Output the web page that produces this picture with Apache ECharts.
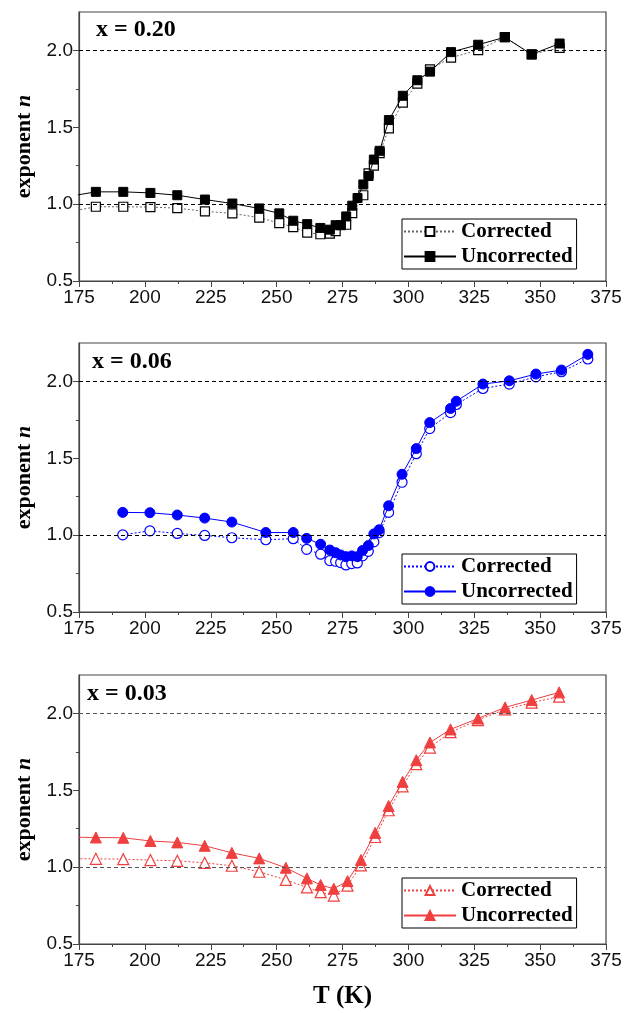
<!DOCTYPE html>
<html><head><meta charset="utf-8">
<script src="https://cdn.jsdelivr.net/npm/echarts@6/dist/echarts.min.js"></script>
<style>html,body{margin:0;padding:0;background:#fff}#c{width:626px;height:1013px}</style>
</head><body><div id="c"></div>
<script>
// ---------- data ----------
const panelLabels = ['x = 0.20', 'x = 0.06', 'x = 0.03'];
const seriesNames = ['Corrected', 'Uncorrected'];
const yTickValues = [0.5, 1.0, 1.5, 2.0];
const refLines = [1.0, 2.0];

// x = 0.20
const T_020 = [171, 181.4, 191.8, 202.1, 212.3, 222.8, 233.2, 243.4, 251.0, 256.3, 261.6, 266.6, 270.2, 272.4, 274.4, 276.4, 278.7, 280.7, 282.9, 284.9, 286.9, 289.1, 292.6, 297.9, 303.4, 308.2, 316.2, 326.5, 336.6, 346.8, 357.4];
const corr_020 = [0.95, 0.983, 0.983, 0.981, 0.974, 0.953, 0.940, 0.912, 0.877, 0.851, 0.815, 0.804, 0.808, 0.825, null, 0.866, 0.942, null, 1.058, 1.200, 1.250, 1.332, 1.493, 1.661, 1.784, 1.877, 1.953, 2.002, 2.086, 1.974, 2.017];
const unc_020 = [1.05, 1.080, 1.080, 1.073, 1.058, 1.030, 1.004, 0.972, 0.940, 0.892, 0.870, 0.845, 0.834, 0.863, 0.863, 0.920, 0.990, 1.040, 1.128, 1.183, 1.290, 1.347, 1.547, 1.705, 1.806, 1.862, 1.989, 2.037, 2.086, 1.974, 2.045];

// x = 0.06
const T_006 = [191.6, 201.9, 212.3, 222.7, 233.0, 245.9, 256.3, 261.4, 266.7, 270.2, 272.4, 274.3, 276.3, 278.5, 280.6, 282.6, 284.8, 286.9, 288.9, 292.5, 297.6, 303.0, 308.1, 316.0, 318.2, 328.3, 338.3, 348.4, 358.1, 368.1];
const corr_006 = [1.002, 1.028, 1.011, 0.998, 0.983, 0.970, 0.977, 0.908, 0.876, 0.834, 0.830, 0.821, 0.806, 0.815, 0.819, 0.865, 0.895, 0.956, 1.017, 1.148, 1.344, 1.530, 1.693, 1.797, 1.850, 1.954, 1.983, 2.030, 2.063, 2.146];
const unc_006 = [1.148, 1.146, 1.131, 1.111, 1.085, 1.017, 1.017, 0.979, 0.941, 0.903, 0.886, 0.871, 0.860, 0.865, 0.860, 0.900, 0.932, 1.008, 1.035, 1.191, 1.396, 1.563, 1.732, 1.824, 1.871, 1.983, 2.004, 2.048, 2.074, 2.176];

// x = 0.03
const T_003 = [171, 181.4, 191.8, 202.1, 212.3, 222.7, 233.0, 243.4, 253.5, 261.5, 266.7, 271.7, 276.9, 282.0, 287.4, 292.5, 297.8, 303.0, 308.2, 316.0, 326.4, 336.7, 346.8, 357.2];
const corr_003 = [1.055, 1.054, 1.052, 1.046, 1.041, 1.028, 1.009, 0.970, 0.917, 0.868, 0.837, 0.815, 0.880, 1.011, 1.196, 1.370, 1.526, 1.670, 1.778, 1.878, 1.957, 2.026, 2.070, 2.109];
const unc_003 = [1.195, 1.193, 1.191, 1.170, 1.161, 1.139, 1.093, 1.057, 0.996, 0.927, 0.884, 0.860, 0.909, 1.047, 1.223, 1.398, 1.555, 1.696, 1.811, 1.896, 1.967, 2.039, 2.087, 2.137];

// ---------- styling ----------
const panels = [
  {T: T_020, c: corr_020, u: unc_020, sym: 'rect', size: 9, color: '#000000', corrLine: '#666666', refColor: '#000000', top: 12, legendTop: 219, labelLeft: 96, labelTop: 18},
  {T: T_006, c: corr_006, u: unc_006, sym: 'circle', size: 10, color: '#0000ff', corrLine: '#0000ff', refColor: '#000000', top: 343, legendTop: 554, labelLeft: 92, labelTop: 350},
  {T: T_003, c: corr_003, u: unc_003, sym: 'triangle', size: 11, color: '#ef3f3f', corrLine: '#ef3f3f', refColor: '#555555', top: 675, legendTop: 878, labelLeft: 87, labelTop: 682}
];
const GRID_H = 269;
const serif = '"Liberation Serif", "Times New Roman", serif';
const sans = '"Liberation Sans", Arial, sans-serif';
const zip = (xs, ys) => xs.map((x, i) => [x, ys[i]]);

const grid = [], xAxis = [], yAxis = [], series = [], legend = [], graphic = [];
panels.forEach((p, i) => {
  grid.push({left: 79, right: 20, top: p.top, height: GRID_H, show: true, borderColor: '#444', borderWidth: 1.2, backgroundColor: 'transparent'});
  xAxis.push({
    type: 'value', gridIndex: i, min: 175, max: 375, interval: 25,
    axisLine: {show: true, onZero: false, lineStyle: {color: '#444', width: 1.2}},
    axisTick: {show: true, length: 6, lineStyle: {color: '#444'}},
    minorTick: {show: true, splitNumber: 2, length: 3, lineStyle: {color: '#444'}},
    splitLine: {show: false},
    axisLabel: {color: '#111', fontFamily: sans, fontSize: 19, margin: 7},
    name: i === 2 ? 'T (K)' : '', nameLocation: 'middle', nameGap: 40,
    nameTextStyle: {fontFamily: serif, fontWeight: 'bold', fontSize: 25, color: '#000'}
  });
  yAxis.push({
    type: 'value', gridIndex: i, min: 0.5, max: 2.25, interval: 0.5,
    axisLine: {show: true, onZero: false, lineStyle: {color: '#444', width: 1.2}},
    axisTick: {show: true, length: 6, customValues: yTickValues, lineStyle: {color: '#444'}},
    minorTick: {show: true, splitNumber: 2, length: 3, lineStyle: {color: '#444'}},
    splitLine: {show: false},
    axisLabel: {color: '#111', fontFamily: sans, fontSize: 19, margin: 6, customValues: yTickValues, formatter: v => v.toFixed(1)},
    name: '{b|exponent }{i|n}', nameLocation: 'middle', nameGap: 44,
    nameTextStyle: {rich: {
      b: {fontFamily: serif, fontWeight: 'bold', fontSize: 22, color: '#000'},
      i: {fontFamily: serif, fontWeight: 'bold', fontStyle: 'italic', fontSize: 22, color: '#000'}
    }}
  });
  const cName = seriesNames[0] + '|' + i, uName = seriesNames[1] + '|' + i;
  series.push({
    name: cName, type: 'line', xAxisIndex: i, yAxisIndex: i,
    data: zip(p.T, p.c), connectNulls: true, showAllSymbol: true,
    symbol: p.sym, symbolSize: p.size,
    lineStyle: {color: p.corrLine, width: 1, type: [2, 2]},
    itemStyle: {color: '#ffffff', borderColor: p.color, borderWidth: 1.2},
    z: 2,
    markLine: {
      silent: true, symbol: ['none', 'none'], label: {show: false},
      lineStyle: {color: p.refColor, width: 1, type: [4, 3]},
      data: refLines.map(v => ({yAxis: v}))
    }
  });
  series.push({
    name: uName, type: 'line', xAxisIndex: i, yAxisIndex: i,
    data: zip(p.T, p.u), showAllSymbol: true,
    symbol: p.sym, symbolSize: p.size,
    lineStyle: {color: p.color, width: 1, type: 'solid'},
    itemStyle: {color: p.color, borderColor: p.color, borderWidth: 1},
    z: 3
  });
  legend.push({
    data: [cName, uName], left: 402, top: p.legendTop, orient: 'vertical',
    borderColor: '#000', borderWidth: 1, padding: [2, 4, 2, 1], itemGap: 4,
    itemWidth: 52, itemHeight: 11, selectedMode: false,
    formatter: n => n.split('|')[0],
    textStyle: {fontFamily: serif, fontWeight: 'bold', fontSize: 21, color: '#000'}
  });
  graphic.push({
    type: 'text', left: p.labelLeft, top: p.labelTop,
    style: {text: panelLabels[i], font: 'bold 24px ' + serif, fill: '#000'}
  });
});

const chart = echarts.init(document.getElementById('c'), null, {renderer: 'canvas'});
chart.setOption({animation: false, backgroundColor: '#fff', grid, xAxis, yAxis, series, legend, graphic});
</script>
</body></html>
